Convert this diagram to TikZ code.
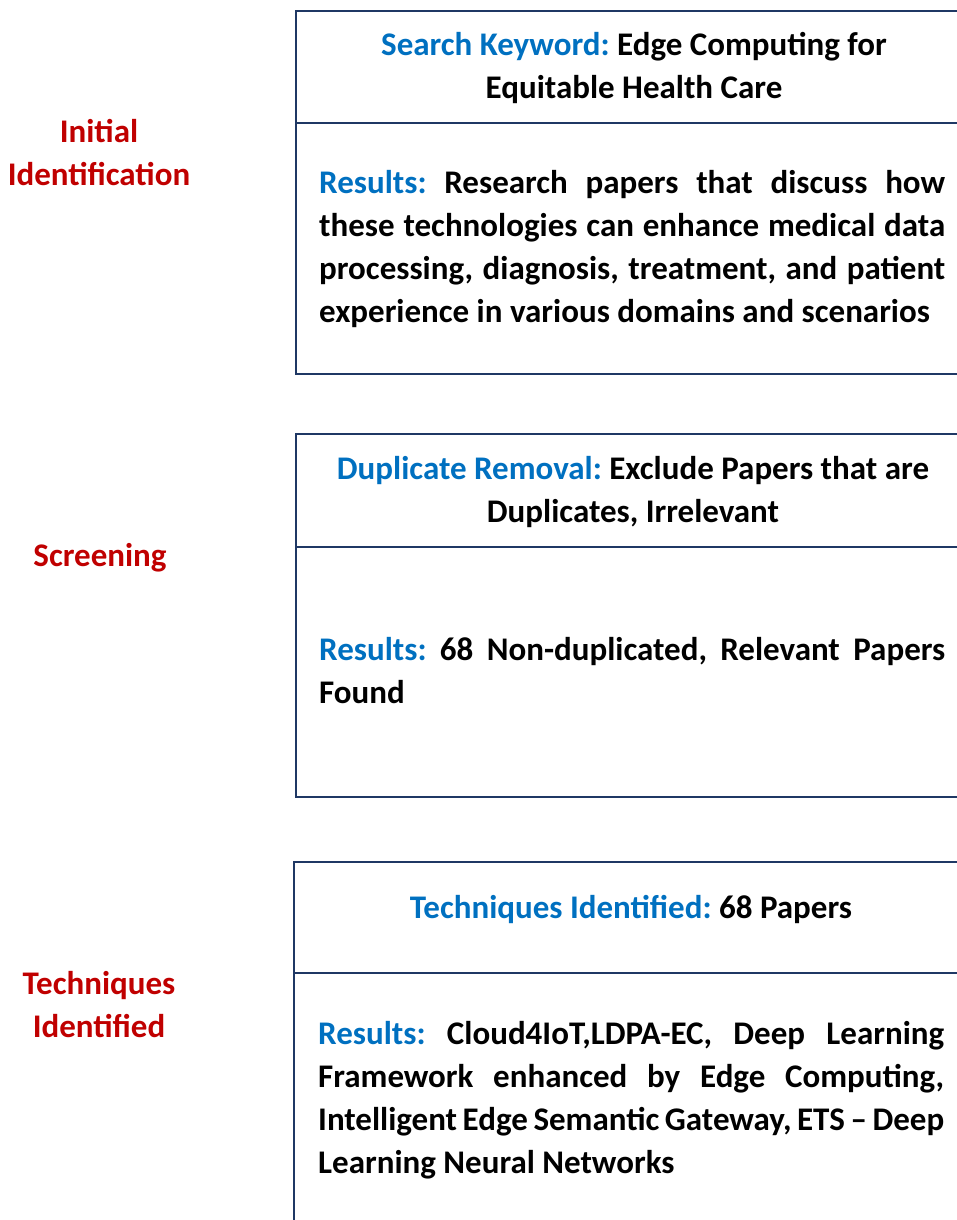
\documentclass[tikz,border=0pt]{standalone}
\usepackage{fontspec}
\setmainfont{Carlito}
\definecolor{keyblue}{HTML}{0070C0}
\definecolor{stagered}{HTML}{C00000}
\definecolor{boxnavy}{HTML}{1F3864}
\newcommand{\boxFont}[0]{\fontsize{33}{43}\selectfont\bfseries\frenchspacing\hyphenpenalty=10000\exhyphenpenalty=10000}
\newcommand{\key}[1]{\textcolor{keyblue}{#1}}
\newcommand{\frameWidth}[0]{2.5pt}

\begin{document}
\begin{tikzpicture}[x=1pt, y=-1pt]
  \tikzset{stage/.style={text=stagered, font=\boxFont, align=center, anchor=base, inner sep=0pt},
    heading/.style={font=\boxFont, align=flush center, text width=660pt, anchor=base, inner sep=0pt},
    results/.style={font=\boxFont, align=justify, text width=626pt, anchor=base west, inner sep=0pt},
    frame/.style={draw=boxnavy, line width=\frameWidth}}
  \useasboundingbox (0,0) rectangle (956,1220);
  % stage names
  \node[stage] (stage-1) at (99,185) {Initial\\Identification};
  \node[stage] (stage-2) at (100,566) {Screening};
  \node[stage] (stage-3) at (99,1037) {Techniques\\Identified};
  % boxes
  \draw[frame] (990,11) -| (296,374) -- (990,374);
  \draw[frame] (296,123) -- (990,123);
  \draw[frame] (990,434) -| (296,797) -- (990,797);
  \draw[frame] (296,547) -- (990,547);
  \draw[frame] (990,862) -| (294,1240);
  \draw[frame] (294,973) -- (990,973);
  % box texts
  \node[heading] (head-1) at (634,56) {\key{Search Keyword:} Edge Computing for\\Equitable Health Care};
  \node[results] (res-1) at (319,193) {\key{Results:} Research papers that discuss how these technologies can enhance medical data processing, diagnosis, treatment, and patient experience in various domains and scenarios};
  \node[heading] (head-2) at (633,479) {\key{Duplicate Removal:} Exclude Papers that are\\Duplicates, Irrelevant};
  \node[results] (res-2) at (319,660) {\key{Results:} 68 Non-duplicated, Relevant Papers Found};
  \node[heading] (head-3) at (631,918) {\key{Techniques Identified:} 68 Papers};
  \node[results] (res-3) at (318,1044) {\key{Results:} Cloud4IoT,LDPA-EC, Deep Learning Framework enhanced by Edge Computing, Intelligent Edge Semantic Gateway, ETS -- Deep Learning Neural Networks};
\end{tikzpicture}
\end{document}
